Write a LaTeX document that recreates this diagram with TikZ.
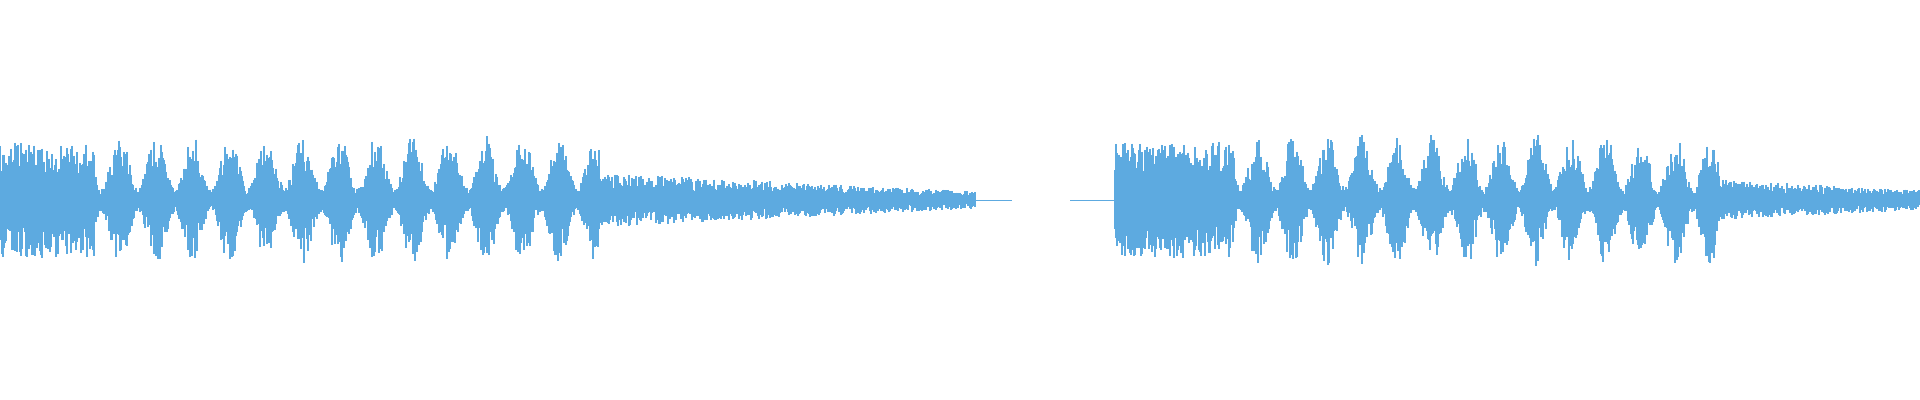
\documentclass[tikz,border=0pt]{standalone}
\usepackage{tikz}
\definecolor{wave}{RGB}{93,170,224}
\begin{document}
\begin{tikzpicture}[x=0.01cm, y=0.01cm,
    sample/.style={draw=wave, line width=0.3pt},
    silence/.style={draw=wave, line width=0.15pt}]
    \useasboundingbox (0,-200) rectangle (1920,200);
    \pgfmathsetseed{7}
    % first clip
    \foreach \x in {0,1,...,975} {
        \pgfmathsetmacro{\ph}{360*mod(\x/36.6,1)-360*mod(120/36.6,1)}
        \pgfmathsetmacro{\burst}{12+52*(0.5+0.5*cos(\ph))^0.9}
        \pgfmathsetmacro{\env}{\x<95 ? 58 : (\x<600 ? \burst : 27-18*(\x-600)/375)}
        \pgfmathsetmacro{\up}{\env*(0.4+0.6*rnd)}
        \pgfmathsetmacro{\dn}{\env*(0.4+0.6*rnd)}
        \draw[sample] (\x,\up) -- (\x,-\dn);
    }
    \draw[silence] (975,0) -- (1012,0);
    \draw[silence] (1070,0) -- (1115,0);
    % second clip
    \foreach \x in {1115,1116,...,1920} {
        \pgfmathsetmacro{\ph}{360*mod((\x-1115)/34.8,1)-360*mod(143/34.8,1)}
        \pgfmathsetmacro{\burst}{12+54*(0.5+0.5*cos(\ph))^0.9}
        \pgfmathsetmacro{\env}{\x<1235 ? 58 : (\x<1720 ? \burst : 20-10*(\x-1720)/200)}
        \pgfmathsetmacro{\up}{\env*(0.4+0.6*rnd)}
        \pgfmathsetmacro{\dn}{\env*(0.4+0.6*rnd)}
        \draw[sample] (\x,\up) -- (\x,-\dn);
    }
\end{tikzpicture}
\end{document}
